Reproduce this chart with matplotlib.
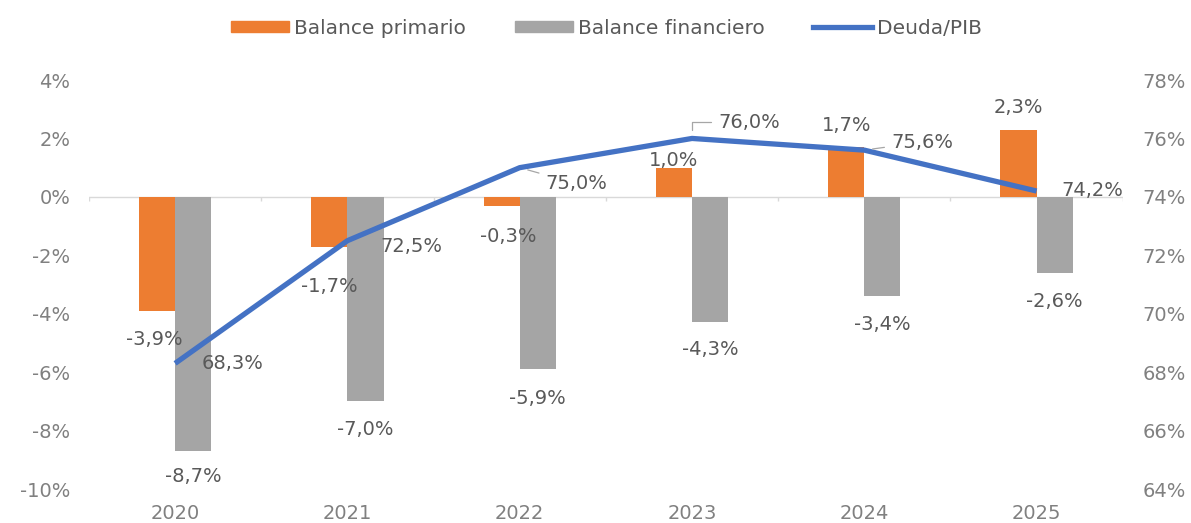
import matplotlib
matplotlib.use("Agg")
import matplotlib.pyplot as plt
import numpy as np
from matplotlib.lines import Line2D
from matplotlib.patches import Patch

years = ["2020", "2021", "2022", "2023", "2024", "2025"]
balance_primario = [-3.9, -1.7, -0.3, 1.0, 1.7, 2.3]
balance_financiero = [-8.7, -7.0, -5.9, -4.3, -3.4, -2.6]
deuda_pib = [68.3, 72.5, 75.0, 76.0, 75.6, 74.2]

left_ticks = [-10, -8, -6, -4, -2, 0, 2, 4]
right_ticks = [64, 66, 68, 70, 72, 74, 76, 78]

# label offsets in pixels (layout only)
prim_off = [(-3, -29), (0, -40), (7, -31), (0, 7), (0, 22), (0, 22)]
fin_off = [(0, -25), (0, -28), (0, -29), (0, -27), (0, -28), (0, -29)]
deuda_off = [(57, 0), (64, -6), (57, -16), (57, 16), (58, 8), (56, 1)]
deuda_leader = [False, False, True, True, True, False]

ORANGE = "#ED7D31"
GRAY = "#A5A5A5"
BLUE = "#4472C4"
TXT = "#595959"
TICK = "#808080"
FS = 14

plt.rcParams["font.family"] = ["DejaVu Sans"]

def fmt(v, dec=1):
    return (f"{v:.{dec}f}%").replace(".", ",")

fig = plt.figure(figsize=(11.91, 5.23), dpi=100)
ax = fig.add_axes([0.0747, 0.065, 0.868, 0.782])
ax2 = ax.twinx()

x = np.arange(len(years))
w = 0.21
ax.bar(x - w / 2, balance_primario, w, color=ORANGE, zorder=2)
ax.bar(x + w / 2, balance_financiero, w, color=GRAY, zorder=2)

ax.axhline(0, color="#d9d9d9", lw=1, zorder=1)
bounds = np.arange(len(years) + 1) - 0.5
ax.vlines(bounds, -0.15, 0, color="#d9d9d9", lw=1, zorder=1)

ax.set_xlim(-0.5, len(years) - 0.5)
ax.set_ylim(-10, 4)
ax.set_yticks(left_ticks)
ax.set_yticklabels([f"{t}%" for t in left_ticks])
ax.set_xticks(x)
ax.set_xticklabels(years)

ax2.set_ylim(64, 78)
ax2.set_yticks(right_ticks)
ax2.set_yticklabels([f"{t}%" for t in right_ticks])

for a in (ax, ax2):
    for s in a.spines.values():
        s.set_visible(False)
    a.tick_params(length=0, labelsize=FS, colors=TICK)
ax.tick_params(axis="y", pad=13.5)
ax.tick_params(axis="x", pad=10.5)
ax2.tick_params(axis="y", pad=14)

ax2.plot(x, deuda_pib, color=BLUE, lw=3.8, solid_capstyle="butt", zorder=3)

for i, v in enumerate(balance_primario):
    ax.annotate(fmt(v), (x[i] - w / 2, v), xytext=prim_off[i], textcoords="offset pixels",
                ha="center", va="center", fontsize=FS, color=TXT, zorder=5)
for i, v in enumerate(balance_financiero):
    ax.annotate(fmt(v), (x[i] + w / 2, v), xytext=fin_off[i], textcoords="offset pixels",
                ha="center", va="center", fontsize=FS, color=TXT, zorder=5)
for i, v in enumerate(deuda_pib):
    kw = {}
    if deuda_leader[i]:
        kw["arrowprops"] = dict(arrowstyle="-", color="#a6a6a6", lw=0.9,
                                shrinkA=3, shrinkB=6,
                                connectionstyle="angle,angleA=0,angleB=90,rad=0" if i == 3 else "arc3")
    ax2.annotate(fmt(v), (x[i], v), xytext=deuda_off[i], textcoords="offset pixels",
                 ha="center", va="center", fontsize=FS, color=TXT, zorder=5, **kw)

handles = [Patch(color=ORANGE), Patch(color=GRAY), Line2D([], [], color=BLUE, lw=3.8)]
labels = ["Balance primario", "Balance financiero", "Deuda/PIB"]
fig.legend(handles, labels, loc="center", bbox_to_anchor=(0.509, 0.946), ncol=3,
           frameon=False, fontsize=14.5, handlelength=2.9, handleheight=0.45,
           handletextpad=0.25, columnspacing=2.4, labelcolor=TXT)

fig.savefig("out.png", dpi=100)
